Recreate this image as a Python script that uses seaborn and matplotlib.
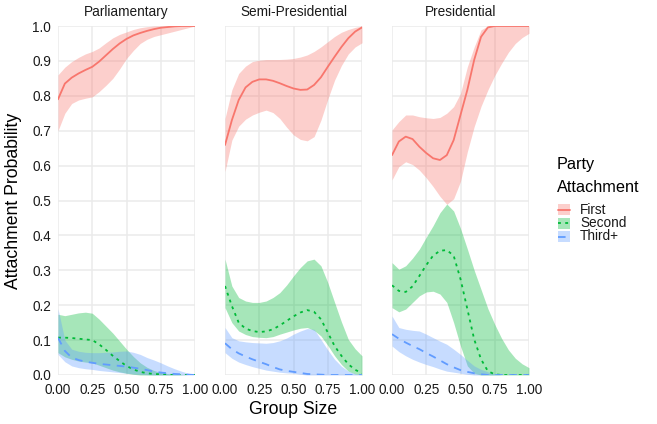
import numpy as np
import pandas as pd
import matplotlib
matplotlib.use("Agg")
import matplotlib.pyplot as plt
import seaborn as sns
from matplotlib.patches import Rectangle
from matplotlib.lines import Line2D

# ---------------- data ----------------
group_size = [0.0, 0.05, 0.10, 0.15, 0.20, 0.25, 0.30, 0.35, 0.40, 0.45, 0.50,
              0.55, 0.60, 0.65, 0.70, 0.75, 0.80, 0.85, 0.90, 0.95, 1.0]
systems = ["Parliamentary", "Semi-Presidential", "Presidential"]
attachments = ["First", "Second", "Third+"]

# Parliamentary
parl_first = [0.790, 0.835, 0.852, 0.864, 0.874, 0.883, 0.898, 0.916, 0.934, 0.950, 0.963,
              0.973, 0.980, 0.986, 0.991, 0.995, 0.997, 0.999, 1.0, 1.0, 1.0]
parl_first_lo = [0.700, 0.750, 0.778, 0.788, 0.793, 0.797, 0.812, 0.830, 0.850, 0.877, 0.907,
                 0.930, 0.950, 0.962, 0.970, 0.975, 0.980, 0.985, 0.990, 0.995, 1.0]
parl_first_hi = [0.860, 0.882, 0.898, 0.910, 0.920, 0.927, 0.937, 0.952, 0.966, 0.976, 0.983,
                 0.990, 0.995, 0.998, 1.0, 1.0, 1.0, 1.0, 1.0, 1.0, 1.0]
parl_second = [0.107, 0.107, 0.106, 0.104, 0.102, 0.100, 0.088, 0.072, 0.055, 0.040, 0.026,
               0.016, 0.009, 0.005, 0.003, 0.002, 0.001, 0.0, 0.0, 0.0, 0.0]
parl_second_lo = [0.064, 0.052, 0.045, 0.040, 0.037, 0.035, 0.028, 0.021, 0.014, 0.009, 0.005,
                  0.002, 0.0, 0.0, 0.0, 0.0, 0.0, 0.0, 0.0, 0.0, 0.0]
parl_second_hi = [0.174, 0.170, 0.174, 0.178, 0.180, 0.177, 0.160, 0.140, 0.120, 0.097, 0.074,
                  0.053, 0.035, 0.022, 0.013, 0.007, 0.004, 0.002, 0.001, 0.0, 0.0]
parl_third = [0.107, 0.069, 0.050, 0.043, 0.038, 0.035, 0.032, 0.030, 0.028, 0.026, 0.024,
              0.021, 0.018, 0.014, 0.010, 0.007, 0.005, 0.003, 0.002, 0.001, 0.0]
parl_third_lo = [0.059, 0.038, 0.026, 0.021, 0.018, 0.016, 0.013, 0.011, 0.009, 0.007, 0.005,
                 0.003, 0.002, 0.001, 0.0, 0.0, 0.0, 0.0, 0.0, 0.0, 0.0]
parl_third_hi = [0.190, 0.100, 0.074, 0.068, 0.065, 0.064, 0.064, 0.065, 0.066, 0.068, 0.069,
                 0.065, 0.059, 0.050, 0.043, 0.035, 0.026, 0.018, 0.011, 0.005, 0.0]

# Semi-Presidential
semi_first = [0.659, 0.730, 0.788, 0.824, 0.840, 0.847, 0.847, 0.843, 0.836, 0.828, 0.821,
              0.817, 0.818, 0.831, 0.853, 0.883, 0.912, 0.940, 0.965, 0.984, 0.996]
semi_first_lo = [0.583, 0.673, 0.713, 0.733, 0.745, 0.753, 0.759, 0.752, 0.735, 0.710, 0.688,
                 0.675, 0.671, 0.683, 0.730, 0.790, 0.845, 0.887, 0.920, 0.940, 0.952]
semi_first_hi = [0.735, 0.817, 0.864, 0.885, 0.898, 0.902, 0.904, 0.904, 0.904, 0.905, 0.907,
                 0.911, 0.917, 0.927, 0.940, 0.955, 0.970, 0.982, 0.990, 0.996, 1.0]
semi_second = [0.255, 0.198, 0.150, 0.133, 0.126, 0.123, 0.125, 0.131, 0.142, 0.155, 0.168,
               0.179, 0.186, 0.181, 0.160, 0.122, 0.083, 0.055, 0.031, 0.015, 0.005]
semi_second_lo = [0.193, 0.150, 0.126, 0.116, 0.110, 0.108, 0.107, 0.110, 0.117, 0.123, 0.129,
                  0.134, 0.136, 0.128, 0.112, 0.085, 0.055, 0.030, 0.011, 0.003, 0.0]
semi_second_hi = [0.332, 0.255, 0.222, 0.212, 0.208, 0.208, 0.212, 0.222, 0.236, 0.258, 0.284,
                  0.308, 0.327, 0.332, 0.313, 0.265, 0.208, 0.152, 0.102, 0.075, 0.055]
semi_third = [0.091, 0.074, 0.062, 0.053, 0.045, 0.038, 0.031, 0.023, 0.016, 0.012, 0.009,
              0.006, 0.003, 0.002, 0.001, 0.0, 0.0, 0.0, 0.0, 0.0, 0.0]
semi_third_lo = [0.064, 0.048, 0.037, 0.030, 0.024, 0.019, 0.014, 0.011, 0.008, 0.006, 0.005,
                 0.002, 0.0, 0.0, 0.0, 0.0, 0.0, 0.0, 0.0, 0.0, 0.0]
semi_third_hi = [0.136, 0.107, 0.098, 0.095, 0.093, 0.092, 0.091, 0.093, 0.098, 0.106, 0.117,
                 0.126, 0.133, 0.131, 0.102, 0.072, 0.045, 0.025, 0.011, 0.004, 0.0]

# Presidential
pres_first = [0.630, 0.669, 0.683, 0.676, 0.654, 0.636, 0.621, 0.616, 0.630, 0.673, 0.745,
              0.817, 0.903, 0.969, 0.996, 1.0, 1.0, 1.0, 1.0, 1.0, 1.0]
pres_first_lo = [0.559, 0.597, 0.611, 0.603, 0.587, 0.565, 0.540, 0.512, 0.489, 0.505, 0.555,
                 0.640, 0.712, 0.770, 0.817, 0.858, 0.893, 0.925, 0.950, 0.967, 0.979]
pres_first_hi = [0.702, 0.726, 0.745, 0.745, 0.740, 0.737, 0.735, 0.738, 0.750, 0.769, 0.807,
                 0.883, 0.940, 0.989, 1.0, 1.0, 1.0, 1.0, 1.0, 1.0, 1.0]
pres_second = [0.257, 0.241, 0.238, 0.254, 0.284, 0.315, 0.342, 0.356, 0.358, 0.342, 0.275,
               0.189, 0.102, 0.045, 0.011, 0.002, 0.0, 0.0, 0.0, 0.0, 0.0]
pres_second_lo = [0.193, 0.181, 0.189, 0.208, 0.227, 0.238, 0.240, 0.232, 0.208, 0.150, 0.083,
                  0.026, 0.005, 0.0, 0.0, 0.0, 0.0, 0.0, 0.0, 0.0, 0.0]
pres_second_hi = [0.322, 0.303, 0.313, 0.335, 0.361, 0.395, 0.428, 0.465, 0.490, 0.470, 0.420,
                  0.361, 0.300, 0.245, 0.190, 0.145, 0.105, 0.072, 0.048, 0.032, 0.021]
pres_third = [0.117, 0.104, 0.093, 0.083, 0.074, 0.063, 0.053, 0.042, 0.031, 0.022, 0.014,
              0.009, 0.005, 0.002, 0.0, 0.0, 0.0, 0.0, 0.0, 0.0, 0.0]
pres_third_lo = [0.083, 0.067, 0.055, 0.045, 0.037, 0.030, 0.024, 0.017, 0.011, 0.008, 0.005,
                 0.002, 0.0, 0.0, 0.0, 0.0, 0.0, 0.0, 0.0, 0.0, 0.0]
pres_third_hi = [0.169, 0.136, 0.131, 0.128, 0.126, 0.117, 0.107, 0.097, 0.088, 0.074, 0.059,
                 0.042, 0.026, 0.016, 0.009, 0.004, 0.0, 0.0, 0.0, 0.0, 0.0]

x_ticks = [0.0, 0.25, 0.5, 0.75, 1.0]
x_tick_labels = ["0.00", "0.25", "0.50", "0.75", "1.00"]
y_ticks = [0.0, 0.1, 0.2, 0.3, 0.4, 0.5, 0.6, 0.7, 0.8, 0.9, 1.0]
y_tick_labels = ["0.0", "0.1", "0.2", "0.3", "0.4", "0.5", "0.6", "0.7", "0.8", "0.9", "1.0"]

series = {
    ("Parliamentary", "First"): (parl_first, parl_first_lo, parl_first_hi),
    ("Parliamentary", "Second"): (parl_second, parl_second_lo, parl_second_hi),
    ("Parliamentary", "Third+"): (parl_third, parl_third_lo, parl_third_hi),
    ("Semi-Presidential", "First"): (semi_first, semi_first_lo, semi_first_hi),
    ("Semi-Presidential", "Second"): (semi_second, semi_second_lo, semi_second_hi),
    ("Semi-Presidential", "Third+"): (semi_third, semi_third_lo, semi_third_hi),
    ("Presidential", "First"): (pres_first, pres_first_lo, pres_first_hi),
    ("Presidential", "Second"): (pres_second, pres_second_lo, pres_second_hi),
    ("Presidential", "Third+"): (pres_third, pres_third_lo, pres_third_hi),
}

rows = []
for (sysname, att), (m, lo, hi) in series.items():
    for xv, mv, lv, hv in zip(group_size, m, lo, hi):
        rows.append(dict(system=sysname, attachment=att, x=xv, prob=mv, lo=lv, hi=hv))
df = pd.DataFrame(rows)

# ---------------- style ----------------
sns.set_theme(style="white")
plt.rcParams["font.family"] = ["Liberation Sans", "DejaVu Sans"]

palette = {"First": "#F8766D", "Second": "#00BA38", "Third+": "#619CFF"}
lw = 1.3
dashes = {"First": "", "Second": (1.6, 2.4), "Third+": (4.2, 3.6)}

W, H = 657, 424
fig = plt.figure(figsize=(W / 100, H / 100), dpi=100)
fig.patch.set_facecolor("white")

lefts = [58, 225, 392]
pw = 137
top, bottom = 26, 375
text_col = "#1A1A1A"

for i, sysname in enumerate(systems):
    ax = fig.add_axes([lefts[i] / W, 1 - bottom / H, pw / W, (bottom - top) / H])
    sub = df[df.system == sysname]
    for att in attachments:
        s = sub[sub.attachment == att]
        ax.fill_between(s.x, s.lo, s.hi, color=palette[att], alpha=0.35, lw=0, zorder=2)
    sns.lineplot(data=sub, x="x", y="prob", hue="attachment", style="attachment",
                 hue_order=attachments, style_order=attachments, palette=palette,
                 dashes=dashes, lw=lw, ax=ax, legend=False, zorder=3)
    ax.set_xlim(0, 1)
    ax.set_ylim(0, 1)
    ax.set_xticks(x_ticks)
    ax.set_xticklabels(x_tick_labels)
    ax.set_yticks(y_ticks)
    if i == 0:
        ax.set_yticklabels(y_tick_labels)
    else:
        ax.set_yticklabels([])
    ax.tick_params(axis="both", length=0, labelsize=9.8, colors=text_col)
    ax.tick_params(axis="x", pad=5.5)
    ax.tick_params(axis="y", pad=5)
    ax.grid(True, color="#EBEBEB", lw=1.1, zorder=0)
    ax.set_axisbelow(True)
    for sp in ax.spines.values():
        sp.set_visible(False)
    ax.set_xlabel("")
    ax.set_ylabel("")
    ax.set_title(sysname, fontsize=9.8, color=text_col, pad=7)

fig.text(293.5 / W, 1 - 409 / H, "Group Size", ha="center", va="center",
         fontsize=12.7, color="black")
fig.text(14 / W, 1 - 200.5 / H, "Attachment Probability", ha="center", va="center",
         rotation=90, fontsize=12.7, color="black")

# legend
lax = fig.add_axes([0, 0, 1, 1], facecolor="none")
lax.set_xlim(0, W)
lax.set_ylim(H, 0)
lax.axis("off")
lax.text(557, 164, "Party", fontsize=11.7, va="center", ha="left", color="black")
lax.text(557, 188, "Attachment", fontsize=11.7, va="center", ha="left", color="black")
key_y = [209.5, 223, 236.5]
for att, ky in zip(attachments, key_y):
    lax.add_patch(Rectangle((558, ky - 5.5), 11.5, 11, color=palette[att], alpha=0.35, lw=0))
    ln = Line2D([558, 569.5], [ky, ky], color=palette[att], lw=lw)
    if dashes[att]:
        ln.set_dashes(dashes[att])
    lax.add_line(ln)
    lax.text(580, ky, att, fontsize=9.8, va="center", ha="left", color=text_col)

fig.savefig("out.png", dpi=100)
